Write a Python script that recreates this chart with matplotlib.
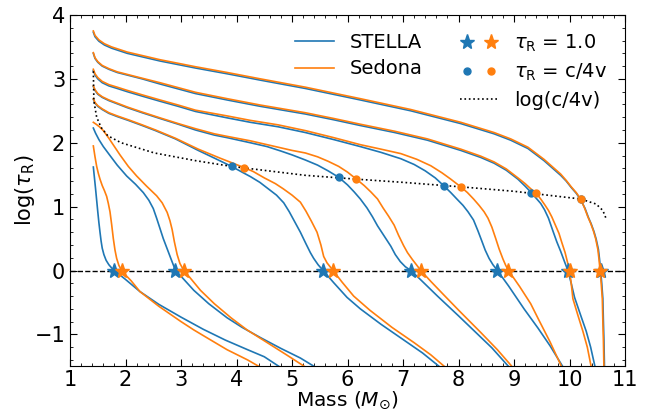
import matplotlib
matplotlib.use('Agg')
import matplotlib.pyplot as plt
from matplotlib.lines import Line2D
from matplotlib.legend_handler import HandlerTuple

# ---- data (mass coordinate vs log tau_R) ----
# STELLA (blue), one list per epoch, top curve first
stella_m = [
    [1.42, 1.45, 1.52, 1.62, 1.75, 2.03, 2.62, 3.26, 3.83, 4.43, 5.24, 6.23, 7.14, 8.04, 8.64, 8.94, 9.25, 9.54, 9.84, 9.94, 10.03, 10.12, 10.20, 10.28, 10.34, 10.39, 10.44, 10.48, 10.52, 10.54, 10.56, 10.58, 10.60, 10.61, 10.62, 10.63],
    [1.42, 1.45, 1.50, 1.58, 1.70, 1.85, 2.03, 2.30, 2.62, 3.26, 3.83, 4.43, 5.24, 5.75, 6.23, 6.85, 7.44, 8.04, 8.40, 8.64, 8.86, 9.07, 9.20, 9.31, 9.40, 9.48, 9.55, 9.62, 9.70, 9.77, 9.84, 9.90, 9.97, 10.03, 10.09, 10.20, 10.30, 10.38, 10.47],
    [1.42, 1.45, 1.50, 1.58, 1.70, 1.85, 2.03, 2.30, 2.62, 2.95, 3.26, 3.83, 4.25, 4.75, 5.24, 5.75, 6.23, 6.60, 6.96, 7.20, 7.40, 7.58, 7.73, 7.86, 7.98, 8.08, 8.17, 8.27, 8.35, 8.42, 8.48, 8.55, 8.62, 8.70, 8.90, 9.18, 9.43, 9.65, 9.91],
    [1.42, 1.45, 1.50, 1.58, 1.70, 1.85, 2.03, 2.30, 2.62, 2.95, 3.26, 3.60, 3.83, 4.25, 4.55, 4.80, 5.00, 5.24, 5.46, 5.65, 5.84, 6.00, 6.12, 6.23, 6.35, 6.45, 6.54, 6.66, 6.78, 6.86, 6.95, 7.04, 7.14, 7.30, 7.62, 8.00, 8.30, 8.60, 8.95],
    [1.42, 1.45, 1.50, 1.58, 1.70, 1.85, 2.05, 2.30, 2.54, 2.90, 3.31, 3.60, 3.91, 4.10, 4.25, 4.42, 4.57, 4.72, 4.85, 4.95, 5.05, 5.15, 5.25, 5.33, 5.39, 5.47, 5.56, 5.75, 5.99, 6.23, 6.60, 7.00, 7.35, 7.72],
    [1.42, 1.46, 1.52, 1.60, 1.72, 1.85, 2.02, 2.18, 2.32, 2.42, 2.50, 2.56, 2.62, 2.68, 2.75, 2.82, 2.90, 3.00, 3.23, 3.50, 3.83, 4.10, 4.43, 4.80, 5.15, 5.49],
    [1.42, 1.44, 1.46, 1.48, 1.50, 1.52, 1.54, 1.56, 1.58, 1.61, 1.65, 1.70, 1.75, 1.80, 1.90, 2.00, 2.26, 2.60, 3.00, 3.40, 3.80, 4.20, 4.50, 4.85],
]
stella_tau = [
    [3.73, 3.66, 3.59, 3.53, 3.48, 3.40, 3.28, 3.17, 3.08, 2.98, 2.85, 2.67, 2.50, 2.30, 2.14, 2.04, 1.91, 1.72, 1.49, 1.40, 1.30, 1.21, 1.11, 0.97, 0.83, 0.73, 0.61, 0.49, 0.33, 0.18, 0.00, -0.20, -0.44, -0.80, -1.10, -1.55],
    [3.40, 3.32, 3.26, 3.20, 3.15, 3.10, 3.06, 3.00, 2.92, 2.77, 2.67, 2.57, 2.45, 2.36, 2.27, 2.16, 2.04, 1.88, 1.77, 1.68, 1.57, 1.43, 1.32, 1.22, 1.13, 1.05, 0.95, 0.82, 0.62, 0.45, 0.30, 0.16, 0.00, -0.20, -0.42, -0.70, -0.95, -1.20, -1.55],
    [3.13, 3.06, 3.00, 2.94, 2.89, 2.85, 2.80, 2.73, 2.65, 2.57, 2.49, 2.39, 2.32, 2.25, 2.16, 2.05, 1.94, 1.85, 1.75, 1.66, 1.56, 1.45, 1.33, 1.22, 1.11, 1.02, 0.92, 0.79, 0.62, 0.46, 0.32, 0.19, 0.09, 0.00, -0.24, -0.60, -0.90, -1.18, -1.55],
    [2.88, 2.82, 2.76, 2.71, 2.66, 2.61, 2.55, 2.47, 2.38, 2.29, 2.20, 2.12, 2.08, 2.00, 1.94, 1.87, 1.81, 1.73, 1.65, 1.56, 1.46, 1.34, 1.23, 1.12, 0.98, 0.84, 0.70, 0.54, 0.38, 0.25, 0.14, 0.06, 0.00, -0.13, -0.40, -0.71, -0.96, -1.21, -1.55],
    [2.68, 2.62, 2.57, 2.52, 2.46, 2.41, 2.35, 2.27, 2.19, 2.06, 1.88, 1.76, 1.63, 1.54, 1.47, 1.38, 1.28, 1.18, 1.06, 0.92, 0.76, 0.60, 0.42, 0.28, 0.19, 0.09, 0.00, -0.19, -0.42, -0.60, -0.84, -1.08, -1.29, -1.55],
    [2.23, 2.15, 2.05, 1.94, 1.80, 1.65, 1.48, 1.35, 1.22, 1.10, 0.97, 0.82, 0.66, 0.50, 0.34, 0.18, 0.00, -0.09, -0.31, -0.52, -0.74, -0.89, -1.05, -1.22, -1.37, -1.55],
    [1.62, 1.45, 1.28, 1.10, 0.92, 0.75, 0.60, 0.46, 0.35, 0.25, 0.16, 0.09, 0.04, 0.00, -0.07, -0.14, -0.33, -0.53, -0.73, -0.92, -1.09, -1.24, -1.35, -1.55],
]

# Sedona (orange)
sedona_m = [
    [1.42, 1.45, 1.52, 1.62, 1.75, 2.03, 2.62, 3.26, 3.83, 4.43, 5.24, 6.23, 7.14, 8.04, 8.64, 8.94, 9.25, 9.54, 9.84, 9.94, 10.03, 10.12, 10.20, 10.27, 10.33, 10.38, 10.43, 10.47, 10.51, 10.53, 10.55, 10.57, 10.59, 10.60, 10.61, 10.62],
    [1.42, 1.45, 1.50, 1.58, 1.70, 1.85, 2.03, 2.30, 2.62, 3.26, 3.83, 4.43, 5.24, 5.75, 6.23, 6.85, 7.44, 8.04, 8.40, 8.64, 8.86, 9.07, 9.20, 9.30, 9.40, 9.48, 9.56, 9.62, 9.68, 9.74, 9.81, 9.86, 9.92, 9.96, 10.00, 10.03, 10.06, 10.15, 10.24, 10.32, 10.40],
    [1.42, 1.45, 1.50, 1.58, 1.70, 1.85, 2.03, 2.30, 2.62, 2.95, 3.26, 3.83, 4.25, 4.75, 5.24, 5.75, 6.23, 6.60, 6.96, 7.25, 7.50, 7.70, 7.86, 8.04, 8.16, 8.27, 8.37, 8.46, 8.53, 8.60, 8.67, 8.73, 8.80, 8.85, 8.90, 9.10, 9.30, 9.45, 9.65, 9.88],
    [1.42, 1.45, 1.50, 1.58, 1.70, 1.85, 2.03, 2.30, 2.62, 2.95, 3.26, 3.60, 3.83, 4.25, 4.55, 4.80, 5.00, 5.24, 5.46, 5.65, 5.84, 6.00, 6.16, 6.30, 6.42, 6.54, 6.64, 6.74, 6.84, 6.92, 7.01, 7.08, 7.17, 7.25, 7.32, 7.50, 7.71, 8.00, 8.40, 8.70, 9.01],
    [1.42, 1.45, 1.50, 1.58, 1.70, 1.85, 2.05, 2.30, 2.54, 2.90, 3.31, 3.70, 4.14, 4.30, 4.50, 4.70, 4.84, 5.00, 5.15, 5.25, 5.35, 5.45, 5.52, 5.57, 5.63, 5.74, 5.90, 6.11, 6.40, 6.80, 7.20, 7.50, 7.81],
    [1.42, 1.47, 1.53, 1.60, 1.70, 1.80, 1.90, 2.05, 2.20, 2.38, 2.56, 2.66, 2.75, 2.80, 2.84, 2.88, 2.93, 2.98, 3.05, 3.15, 3.35, 3.60, 3.90, 4.19, 4.50, 4.90, 5.31],
    [1.42, 1.45, 1.48, 1.51, 1.54, 1.58, 1.62, 1.66, 1.69, 1.72, 1.75, 1.78, 1.81, 1.84, 1.88, 1.93, 2.00, 2.10, 2.26, 2.60, 3.00, 3.23, 3.50, 3.83, 4.20, 4.50],
]
sedona_tau = [
    [3.75, 3.68, 3.61, 3.55, 3.50, 3.42, 3.30, 3.19, 3.10, 3.00, 2.87, 2.69, 2.52, 2.32, 2.16, 2.06, 1.93, 1.74, 1.51, 1.41, 1.31, 1.22, 1.12, 0.98, 0.84, 0.74, 0.62, 0.50, 0.33, 0.18, 0.00, -0.20, -0.44, -0.80, -1.10, -1.55],
    [3.41, 3.33, 3.27, 3.21, 3.16, 3.11, 3.07, 3.01, 2.94, 2.79, 2.69, 2.59, 2.47, 2.38, 2.29, 2.18, 2.06, 1.90, 1.79, 1.70, 1.59, 1.45, 1.36, 1.28, 1.21, 1.12, 1.02, 0.94, 0.84, 0.72, 0.58, 0.44, 0.28, 0.14, 0.00, -0.20, -0.44, -0.70, -0.95, -1.20, -1.55],
    [3.15, 3.08, 3.02, 2.96, 2.91, 2.87, 2.82, 2.75, 2.67, 2.59, 2.51, 2.42, 2.35, 2.28, 2.19, 2.08, 1.97, 1.90, 1.83, 1.74, 1.64, 1.53, 1.43, 1.31, 1.22, 1.12, 1.02, 0.92, 0.82, 0.68, 0.50, 0.34, 0.18, 0.08, 0.00, -0.25, -0.52, -0.78, -1.12, -1.55],
    [2.89, 2.83, 2.77, 2.72, 2.67, 2.62, 2.56, 2.48, 2.39, 2.30, 2.22, 2.14, 2.10, 2.03, 1.97, 1.92, 1.88, 1.84, 1.78, 1.71, 1.63, 1.54, 1.43, 1.33, 1.23, 1.12, 0.98, 0.85, 0.71, 0.55, 0.39, 0.28, 0.17, 0.08, 0.00, -0.17, -0.36, -0.62, -0.97, -1.24, -1.55],
    [2.69, 2.63, 2.58, 2.53, 2.47, 2.42, 2.36, 2.28, 2.20, 2.07, 1.90, 1.76, 1.61, 1.55, 1.45, 1.36, 1.28, 1.18, 1.07, 0.93, 0.77, 0.60, 0.40, 0.22, 0.12, 0.00, -0.18, -0.40, -0.62, -0.89, -1.13, -1.32, -1.55],
    [2.32, 2.29, 2.25, 2.19, 2.07, 1.94, 1.81, 1.63, 1.48, 1.32, 1.17, 1.06, 0.91, 0.78, 0.64, 0.45, 0.25, 0.11, 0.00, -0.10, -0.31, -0.52, -0.74, -0.93, -1.10, -1.32, -1.55],
    [1.95, 1.78, 1.63, 1.52, 1.43, 1.33, 1.25, 1.16, 1.05, 0.92, 0.72, 0.50, 0.32, 0.19, 0.08, 0.00, -0.07, -0.16, -0.33, -0.56, -0.80, -0.93, -1.07, -1.24, -1.40, -1.55],
]

# tau_R = 1 crossings (stars) and tau_R = c/4v crossings (circles)
star_stella = [1.80, 2.90, 5.56, 7.14, 8.70, 9.97, 10.56]
star_sedona = [1.93, 3.05, 5.74, 7.32, 8.90, 10.00, 10.55]
circ_stella_m = [3.91, 5.84, 7.73, 9.31, 10.20]
circ_stella_t = [1.63, 1.46, 1.33, 1.22, 1.12]
circ_sedona_m = [4.14, 6.16, 8.04, 9.40, 10.20]
circ_sedona_t = [1.61, 1.43, 1.31, 1.21, 1.12]

# log(c/4v) profile
lcv_m = [1.42, 1.43, 1.48, 1.56, 1.68, 1.92, 2.52, 3.26, 3.91, 5.24, 6.16, 7.00, 8.04, 9.00, 9.80, 10.20, 10.48, 10.60, 10.66]
lcv_t = [3.12, 2.65, 2.40, 2.24, 2.11, 2.00, 1.84, 1.72, 1.63, 1.49, 1.43, 1.38, 1.31, 1.24, 1.16, 1.12, 1.04, 0.94, 0.81]

blue = '#1f77b4'
orange = '#ff7f0e'

fig = plt.figure(figsize=(6.49, 4.13), dpi=100)
ax = fig.add_axes([0.1079, 0.113, 0.8552, 0.8507])

for m, t in zip(stella_m, stella_tau):
    ax.plot(m, t, color=blue, lw=1.2)
for m, t in zip(sedona_m, sedona_tau):
    ax.plot(m, t, color=orange, lw=1.2)

ax.plot(lcv_m, lcv_t, 'k:', lw=1.2)
ax.axhline(0, color='k', ls='--', lw=1)

ax.plot(star_stella, [0] * len(star_stella), ls='none', marker='*', ms=11, color=blue, zorder=4)
ax.plot(star_sedona, [0] * len(star_sedona), ls='none', marker='*', ms=11, color=orange, zorder=4)
ax.plot(circ_stella_m, circ_stella_t, ls='none', marker='o', ms=5, color=blue, zorder=4)
ax.plot(circ_sedona_m, circ_sedona_t, ls='none', marker='o', ms=5, color=orange, zorder=4)

ax.set_xlim(1, 11)
ax.set_ylim(-1.5, 4)
ax.set_xticks(range(1, 12))
ax.set_yticks([-1, 0, 1, 2, 3, 4])
ax.minorticks_on()
ax.tick_params(which='both', direction='in', top=True, right=True, labelsize=15)
ax.tick_params(which='major', length=5)
ax.tick_params(which='minor', length=2.5)
ax.tick_params(axis='x', which='major', pad=2.5)
ax.set_xlabel(r'Mass ($M_{\odot}$)', fontsize=14.5, labelpad=0)
ax.set_ylabel(r'log($\tau_{\rm R}$)', fontsize=15, labelpad=-2)

h1 = [Line2D([], [], color=blue, lw=1.2), Line2D([], [], color=orange, lw=1.2)]
leg1 = ax.legend(h1, ['STELLA', 'Sedona'], loc='upper left', bbox_to_anchor=(0.391, 0.972),
                 frameon=False, fontsize=14, borderaxespad=0, labelspacing=0.4)
ax.add_artist(leg1)

sb = Line2D([], [], ls='none', marker='*', ms=11, color=blue)
so = Line2D([], [], ls='none', marker='*', ms=11, color=orange)
cb = Line2D([], [], ls='none', marker='o', ms=5, color=blue)
co = Line2D([], [], ls='none', marker='o', ms=5, color=orange)
dl = Line2D([], [], color='k', ls=':', lw=1.2)
ax.legend([(sb, so), (cb, co), dl],
          [r'$\tau_{\rm R}$ = 1.0', r'$\tau_{\rm R}$ = c/4v', 'log(c/4v)'],
          handler_map={tuple: HandlerTuple(ndivide=None)},
          loc='upper left', bbox_to_anchor=(0.688, 0.972),
          frameon=False, fontsize=14, borderaxespad=0, labelspacing=0.4)

fig.savefig('out.png', dpi=100)
